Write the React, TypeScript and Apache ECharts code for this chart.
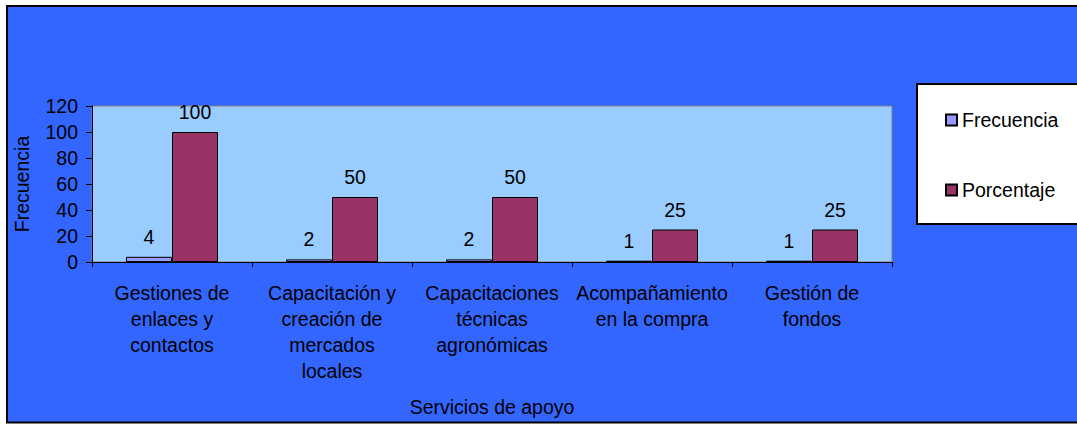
import React, { useEffect, useRef } from "react";
import * as echarts from "echarts";

const categories = [
  "Gestiones de\nenlaces y\ncontactos",
  "Capacitación y\ncreación de\nmercados\nlocales",
  "Capacitaciones\ntécnicas\nagronómicas",
  "Acompañamiento\nen la compra",
  "Gestión de\nfondos",
];
const frecuencia = [4, 2, 2, 1, 1];
const porcentaje = [100, 50, 50, 25, 25];
const yTicks = { min: 0, max: 120, interval: 20 };

const FONT = "'Liberation Sans', Arial, sans-serif";
const FS = 19.5;

export default function App() {
  const ref = useRef<HTMLDivElement>(null);
  useEffect(() => {
    if (!ref.current) return;
    const chart = echarts.init(ref.current, null, { renderer: "svg" });
    chart.setOption({
      animation: false,
      backgroundColor: "#ffffff",
      textStyle: { fontFamily: FONT, color: "#000" },
      graphic: {
        elements: [
          {
            type: "rect",
            z: -10,
            shape: { x: 7, y: 6, width: 1080, height: 416.5 },
            style: { fill: "#3366FF", stroke: "#000", lineWidth: 2 },
          },
          {
            type: "rect",
            z: -5,
            shape: { x: 917, y: 84, width: 170, height: 140 },
            style: { fill: "#ffffff", stroke: "#000", lineWidth: 2 },
          },
        ],
      },
      grid: {
        left: 92,
        top: 106,
        width: 800,
        height: 156,
        show: true,
        backgroundColor: "#99CCFF",
        borderColor: "#808080",
        borderWidth: 1,
      },
      legend: {
        orient: "vertical",
        left: 940,
        top: 105,
        itemWidth: 11,
        itemHeight: 11,
        itemGap: 50,
        icon: "rect",
        textStyle: { fontSize: FS, fontFamily: FONT, color: "#000" },
        data: ["Frecuencia", "Porcentaje"],
      },
      xAxis: {
        type: "category",
        data: categories,
        name: "Servicios de apoyo",
        nameLocation: "middle",
        nameGap: 135,
        nameTextStyle: { fontSize: FS, fontFamily: FONT, color: "#000" },
        axisLine: { lineStyle: { color: "#000", width: 1 } },
        axisTick: { show: true, length: 5, lineStyle: { color: "#000" } },
        axisLabel: {
          fontSize: FS,
          lineHeight: 26,
          margin: 18,
          color: "#000",
          fontFamily: FONT,
          interval: 0,
        },
      },
      yAxis: {
        type: "value",
        min: yTicks.min,
        max: yTicks.max,
        interval: yTicks.interval,
        name: "Frecuencia",
        nameLocation: "middle",
        nameGap: 60,
        nameTextStyle: { fontSize: FS, fontFamily: FONT, color: "#000" },
        axisLine: { show: true, lineStyle: { color: "#000", width: 1 } },
        axisTick: { show: true, length: 6, lineStyle: { color: "#000" } },
        axisLabel: { fontSize: FS, color: "#000", fontFamily: FONT, margin: 14 },
        splitLine: { show: false },
      },
      series: [
        {
          name: "Frecuencia",
          type: "bar",
          data: frecuencia,
          barGap: "0%",
          barCategoryGap: "42.5%",
          itemStyle: { color: "#9999FF", borderColor: "#000", borderWidth: 1 },
          label: {
            show: true,
            position: "top",
            distance: 10,
            fontSize: FS,
            color: "#000",
            fontFamily: FONT,
          },
        },
        {
          name: "Porcentaje",
          type: "bar",
          data: porcentaje,
          barGap: "0%",
          barCategoryGap: "42.5%",
          itemStyle: { color: "#993366", borderColor: "#000", borderWidth: 1 },
          label: {
            show: true,
            position: "top",
            distance: 10,
            fontSize: FS,
            color: "#000",
            fontFamily: FONT,
          },
        },
      ],
    });
    return () => chart.dispose();
  }, []);
  return (
    <div
      ref={ref}
      style={{ position: "fixed", left: 0, top: 0, width: 1077, height: 424 }}
    />
  );
}
